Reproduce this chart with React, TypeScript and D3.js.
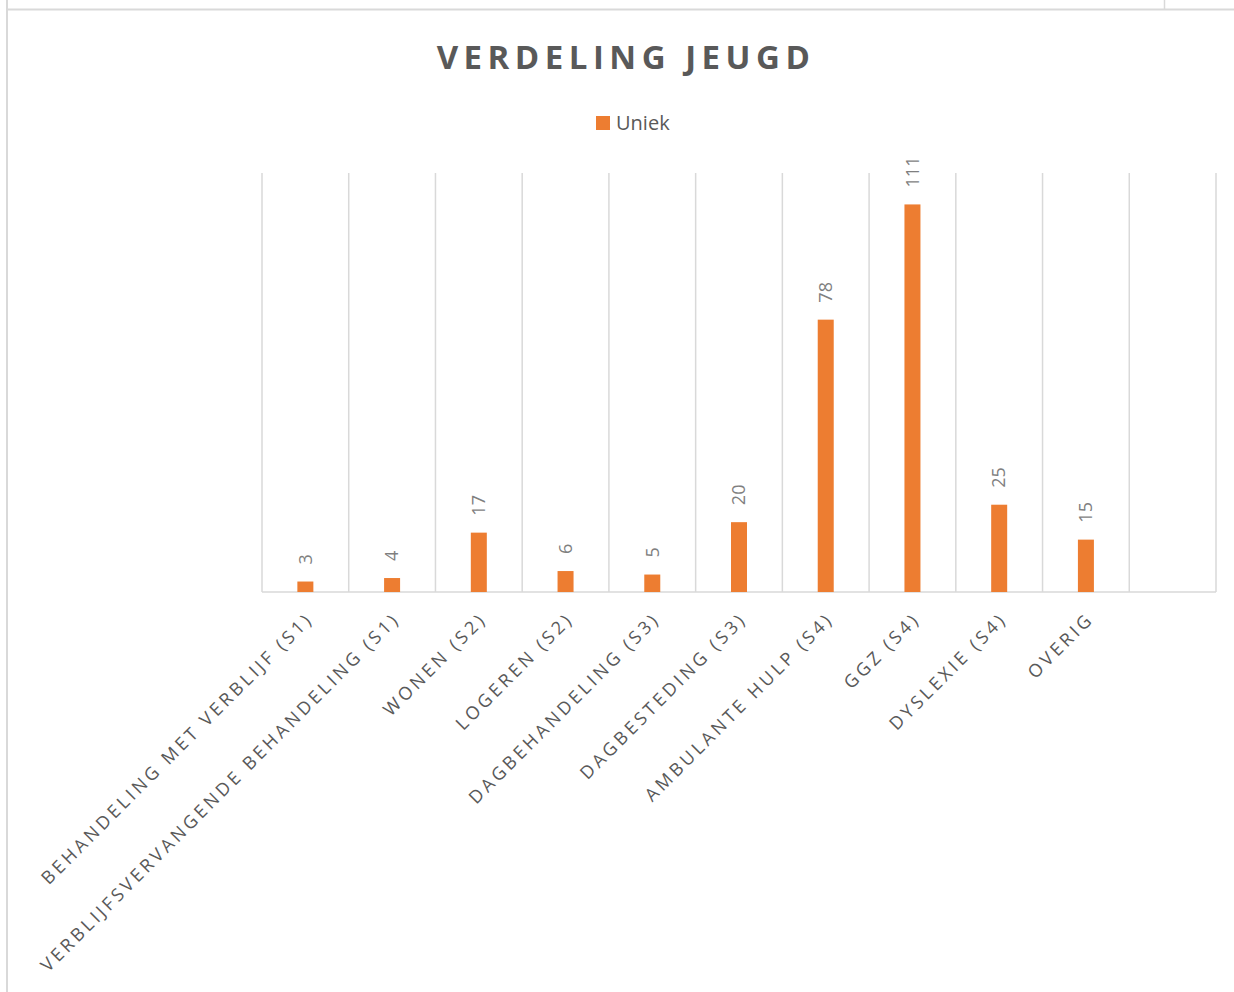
import React, { useEffect, useRef } from 'react';
import * as d3 from 'd3';

// categorieën en aantallen (Uniek)
const categories = [
  'BEHANDELING MET VERBLIJF (S1)',
  'VERBLIJFSVERVANGENDE BEHANDELING (S1)',
  'WONEN (S2)',
  'LOGEREN (S2)',
  'DAGBEHANDELING (S3)',
  'DAGBESTEDING (S3)',
  'AMBULANTE HULP (S4)',
  'GGZ (S4)',
  'DYSLEXIE (S4)',
  'OVERIG',
  '',
];
const uniek = [3, 4, 17, 6, 5, 20, 78, 111, 25, 15, null];
const seriesName = 'Uniek';
const title = 'VERDELING JEUGD';

const App = () => {
  const ref = useRef<SVGSVGElement>(null);

  useEffect(() => {
    const svg = d3.select(ref.current);
    svg.selectAll('*').remove();

    const width = 1234;
    const height = 992;
    const left = 262;
    const right = 1216;
    const top = 173;
    const bottom = 592;
    const grid = '#d9d9d9';
    const font = "'Open Sans', sans-serif";

    // rand van de cellen
    svg.append('line').attr('x1', 7).attr('x2', 7).attr('y1', 0).attr('y2', height)
      .attr('stroke', grid).attr('stroke-width', 2);
    svg.append('line').attr('x1', 7).attr('x2', width).attr('y1', 9.5).attr('y2', 9.5)
      .attr('stroke', grid).attr('stroke-width', 2);
    svg.append('line').attr('x1', 1164.5).attr('x2', 1164.5).attr('y1', 0).attr('y2', 9)
      .attr('stroke', grid).attr('stroke-width', 1.5);

    const x = d3.scaleBand<number>()
      .domain(d3.range(categories.length))
      .range([left, right])
      .paddingInner(0)
      .paddingOuter(0);

    const y = d3.scaleLinear().domain([0, 120]).range([bottom, top]);

    // verticale rasterlijnen
    const gridX = d3.range(categories.length + 1).map(i => left + i * x.bandwidth());
    svg.append('g')
      .selectAll('line')
      .data(gridX)
      .join('line')
      .attr('x1', d => d).attr('x2', d => d)
      .attr('y1', top).attr('y2', bottom)
      .attr('stroke', grid).attr('stroke-width', 1.5);

    svg.append('line').attr('x1', left).attr('x2', right).attr('y1', bottom).attr('y2', bottom)
      .attr('stroke', grid).attr('stroke-width', 1.5);

    const barW = 16;
    const bars = uniek.map((v, i) => ({ v, i })).filter(d => d.v !== null) as { v: number; i: number }[];

    svg.append('g')
      .selectAll('rect')
      .data(bars)
      .join('rect')
      .attr('x', d => x(d.i)! + x.bandwidth() / 2 - barW / 2)
      .attr('width', barW)
      .attr('y', d => y(d.v))
      .attr('height', d => bottom - y(d.v))
      .attr('fill', '#ed7d31');

    // waardelabels
    svg.append('g')
      .attr('font-family', font)
      .attr('font-size', 18)
      .attr('fill', '#7f7f7f')
      .selectAll('text')
      .data(bars)
      .join('text')
      .attr('transform', d => `translate(${x(d.i)! + x.bandwidth() / 2},${y(d.v) - 17}) rotate(-90)`)
      .attr('dy', '0.35em')
      .attr('text-anchor', 'start')
      .text(d => d.v);

    // categorielabels
    svg.append('g')
      .attr('font-family', font)
      .attr('font-size', 18)
      .attr('letter-spacing', 3.4)
      .attr('fill', '#595959')
      .selectAll('text')
      .data(categories)
      .join('text')
      .attr('transform', (d, i) => `translate(${x(i)! + x.bandwidth() / 2 + 9},${bottom + 28}) rotate(-45)`)
      .attr('text-anchor', 'end')
      .text(d => d);

    // titel
    svg.append('text')
      .attr('x', 626)
      .attr('y', 69)
      .attr('text-anchor', 'middle')
      .attr('font-family', font)
      .attr('font-weight', 'bold')
      .attr('font-size', 33)
      .attr('letter-spacing', 5.5)
      .attr('fill', '#595959')
      .text(title);

    // legenda
    svg.append('rect').attr('x', 596).attr('y', 116).attr('width', 14).attr('height', 14)
      .attr('fill', '#ed7d31');
    svg.append('text')
      .attr('x', 616)
      .attr('y', 130)
      .attr('font-family', font)
      .attr('font-size', 20)
      .attr('fill', '#595959')
      .text(seriesName);
  }, []);

  return (
    <svg
      ref={ref}
      width={1234}
      height={992}
      style={{ position: 'absolute', left: 0, top: 0, background: '#fff' }}
    />
  );
};

export default App;
